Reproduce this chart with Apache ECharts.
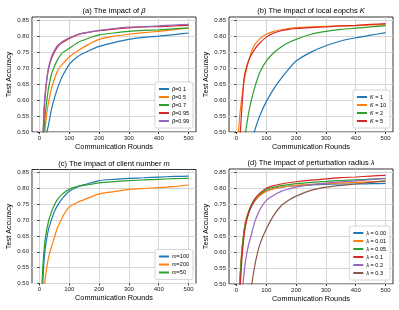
<!DOCTYPE html>
<html><head><meta charset="utf-8">
<script src="https://cdn.jsdelivr.net/npm/echarts@6/dist/echarts.min.js"></script>
<style>html,body{margin:0;padding:0;background:#fff}#c{width:399px;height:310px}</style>
</head><body><div id="c"></div>
<script>
// ---------- Panel (a): impact of beta ----------
const roundsA = [1, 10, 15, 20, 25, 30, 40, 50, 60, 70, 80, 100, 130, 160, 200, 250, 300, 350, 400, 450, 500];
const namesA = ['β=0.1', 'β=0.5', 'β=0.7', 'β=0.95', 'β=0.99'];
const beta01 = [0.10, 0.33, 0.39, 0.45, 0.50, 0.52, 0.57, 0.605, 0.635, 0.66, 0.68, 0.712, 0.737, 0.752, 0.768, 0.78, 0.79, 0.796, 0.80, 0.805, 0.81];
const beta05 = [0.10, 0.38, 0.46, 0.52, 0.56, 0.59, 0.635, 0.665, 0.69, 0.705, 0.715, 0.735, 0.755, 0.772, 0.79, 0.80, 0.806, 0.811, 0.815, 0.82, 0.825];
const beta07 = [0.10, 0.40, 0.50, 0.56, 0.60, 0.635, 0.68, 0.705, 0.725, 0.74, 0.75, 0.762, 0.781, 0.792, 0.804, 0.81, 0.815, 0.818, 0.82, 0.823, 0.826];
const beta095 = [0.10, 0.42, 0.55, 0.62, 0.665, 0.695, 0.73, 0.75, 0.765, 0.775, 0.782, 0.793, 0.805, 0.811, 0.817, 0.822, 0.826, 0.829, 0.830, 0.832, 0.834];
const beta099 = [0.10, 0.44, 0.57, 0.63, 0.67, 0.70, 0.735, 0.755, 0.77, 0.778, 0.785, 0.795, 0.806, 0.812, 0.818, 0.824, 0.828, 0.830, 0.832, 0.835, 0.837];

// ---------- Panel (b): impact of local epochs K ----------
const roundsB = [1, 5, 10, 15, 20, 25, 30, 40, 50, 60, 70, 80, 100, 125, 150, 175, 200, 250, 300, 350, 400, 450, 500];
const namesB = ['K = 1', 'K = 10', 'K = 2', 'K = 5'];
const k1 = [0.10, 0.15, 0.20, 0.24, 0.28, 0.31, 0.34, 0.40, 0.46, 0.50, 0.53, 0.555, 0.595, 0.635, 0.668, 0.697, 0.722, 0.75, 0.77, 0.785, 0.795, 0.803, 0.811];
const k10 = [0.20, 0.47, 0.54, 0.585, 0.62, 0.655, 0.68, 0.72, 0.75, 0.772, 0.784, 0.793, 0.806, 0.815, 0.82, 0.824, 0.827, 0.829, 0.831, 0.832, 0.833, 0.835, 0.836];
const k2 = [0.10, 0.20, 0.28, 0.35, 0.41, 0.46, 0.495, 0.555, 0.60, 0.635, 0.665, 0.69, 0.722, 0.748, 0.766, 0.78, 0.79, 0.806, 0.815, 0.821, 0.825, 0.829, 0.833];
const k5 = [0.15, 0.32, 0.45, 0.53, 0.60, 0.665, 0.69, 0.722, 0.742, 0.757, 0.77, 0.78, 0.797, 0.81, 0.817, 0.821, 0.824, 0.827, 0.829, 0.832, 0.834, 0.837, 0.839];

// ---------- Panel (c): impact of client number m ----------
const roundsC = [1, 5, 10, 15, 20, 30, 40, 50, 60, 70, 80, 100, 125, 150, 200, 250, 300, 350, 400, 450, 500];
const namesC = ['m=100', 'm=200', 'm=50'];
const m100 = [0.12, 0.35, 0.48, 0.565, 0.615, 0.67, 0.70, 0.727, 0.745, 0.76, 0.772, 0.791, 0.804, 0.812, 0.825, 0.829, 0.832, 0.834, 0.836, 0.838, 0.839];
const m200 = [0.10, 0.25, 0.38, 0.47, 0.52, 0.58, 0.615, 0.645, 0.675, 0.695, 0.715, 0.742, 0.755, 0.765, 0.783, 0.79, 0.797, 0.80, 0.803, 0.806, 0.811];
const m50 = [0.15, 0.40, 0.53, 0.60, 0.645, 0.695, 0.725, 0.748, 0.765, 0.776, 0.785, 0.798, 0.806, 0.81, 0.818, 0.822, 0.825, 0.827, 0.829, 0.831, 0.832];

// ---------- Panel (d): impact of perturbation radius lambda ----------
const roundsD = [1, 5, 10, 15, 20, 25, 30, 40, 50, 60, 70, 80, 100, 125, 150, 175, 200, 250, 300, 350, 400, 450, 500];
const namesD = ['λ = 0.00', 'λ = 0.01', 'λ = 0.05', 'λ = 0.1', 'λ = 0.2', 'λ = 0.3'];
const lam000 = [0.15, 0.35, 0.48, 0.56, 0.62, 0.66, 0.69, 0.72, 0.742, 0.758, 0.77, 0.779, 0.792, 0.799, 0.803, 0.806, 0.808, 0.81, 0.812, 0.813, 0.813, 0.814, 0.815];
const lam001 = [0.15, 0.36, 0.49, 0.57, 0.625, 0.665, 0.695, 0.725, 0.745, 0.76, 0.77, 0.778, 0.79, 0.798, 0.803, 0.806, 0.809, 0.812, 0.814, 0.816, 0.818, 0.82, 0.821];
const lam005 = [0.15, 0.35, 0.48, 0.56, 0.62, 0.66, 0.69, 0.725, 0.748, 0.764, 0.775, 0.783, 0.796, 0.803, 0.808, 0.811, 0.814, 0.818, 0.821, 0.824, 0.826, 0.828, 0.83];
const lam01 = [0.12, 0.30, 0.44, 0.53, 0.60, 0.645, 0.68, 0.72, 0.745, 0.763, 0.776, 0.786, 0.80, 0.808, 0.813, 0.817, 0.82, 0.825, 0.829, 0.833, 0.835, 0.838, 0.84];
const lam02 = [0.10, 0.20, 0.32, 0.41, 0.48, 0.53, 0.57, 0.62, 0.655, 0.69, 0.715, 0.735, 0.762, 0.778, 0.79, 0.797, 0.803, 0.811, 0.816, 0.82, 0.823, 0.827, 0.831];
const lam03 = [0.10, 0.12, 0.15, 0.20, 0.25, 0.29, 0.33, 0.42, 0.49, 0.55, 0.595, 0.628, 0.672, 0.715, 0.745, 0.762, 0.775, 0.793, 0.803, 0.809, 0.813, 0.818, 0.823];

const xTicks = [0, 100, 200, 300, 400, 500];
const yTicks = [0.50, 0.55, 0.60, 0.65, 0.70, 0.75, 0.80, 0.85];

const C = ['#1f77b4', '#ff7f0e', '#2ca02c', '#d62728', '#9467bd', '#8c564b'];
const FONT = 'Liberation Sans, Arial, sans-serif';

const panels = [
  {title: '(a) The impact of {i|β}', rounds: roundsA, names: namesA, vals: [beta01, beta05, beta07, beta095, beta099], colors: [C[0], C[1], C[2], C[3], C[4]], grid: {left: 32, top: 17, width: 164, height: 115}},
  {title: '(b) The impact of local eopchs {i|K}', rounds: roundsB, names: namesB, vals: [k1, k10, k2, k5], colors: [C[0], C[1], C[2], C[3]], grid: {left: 229, top: 17, width: 164, height: 115}},
  {title: '(c) The impact of client number {i|m}', rounds: roundsC, names: namesC, vals: [m100, m200, m50], colors: [C[0], C[1], C[2]], grid: {left: 32, top: 169.5, width: 164, height: 114}},
  {title: '(d) The impact of perturbation radius {i|λ}', rounds: roundsD, names: namesD, vals: [lam000, lam001, lam005, lam01, lam02, lam03], colors: C, grid: {left: 229, top: 169, width: 164, height: 115}}
];

const option = {animation: false, textStyle: {fontFamily: FONT}, title: [], grid: [], xAxis: [], yAxis: [], legend: [], series: []};
const italicRich = (fs) => ({i: {fontStyle: 'italic', fontSize: fs, fontFamily: FONT, color: '#000'}});

panels.forEach((p, k) => {
  const g = p.grid;
  option.grid.push({left: g.left, top: g.top, width: g.width, height: g.height, show: true, borderColor: '#000', borderWidth: 0.8, backgroundColor: '#fff'});
  option.title.push({text: p.title, left: g.left + g.width / 2, textAlign: 'center', top: g.top - 10, padding: 0,
    textStyle: {fontSize: 7.5, fontWeight: 'normal', color: '#000', fontFamily: FONT, rich: italicRich(7.5)}});
  option.xAxis.push({type: 'value', gridIndex: k, min: -25, max: 525, splitNumber: 5,
    name: 'Communication Rounds', nameLocation: 'middle', nameGap: 11,
    nameTextStyle: {fontSize: 7.3, color: '#000', fontFamily: FONT},
    axisLine: {show: false}, axisTick: {show: true, length: 2, lineStyle: {color: '#000', width: 0.8}, customValues: xTicks},
    axisLabel: {fontSize: 6, color: '#222', margin: 3, customValues: xTicks},
    splitLine: {show: true, lineStyle: {color: '#d6d6d6', width: 1}}});
  option.yAxis.push({type: 'value', gridIndex: k, min: 0.5, max: 0.86, interval: 0.05,
    name: 'Test Accuracy', nameLocation: 'middle', nameGap: 20,
    nameTextStyle: {fontSize: 7.3, color: '#000', fontFamily: FONT},
    axisLine: {show: false}, axisTick: {show: true, length: 2, lineStyle: {color: '#000', width: 0.8}, customValues: yTicks},
    axisLabel: {fontSize: 6, color: '#222', margin: 3, customValues: yTicks, formatter: v => v.toFixed(2)},
    splitLine: {show: true, lineStyle: {color: '#d6d6d6', width: 1}}});
  option.legend.push({data: p.names, orient: 'vertical', right: 399 - (g.left + g.width - 3), bottom: 310 - (g.top + g.height - 4),
    padding: [3, 4, 3, 4], itemGap: 0, itemWidth: 10, itemHeight: 2, icon: 'rect',
    borderColor: '#cccccc', borderWidth: 0.8, borderRadius: 2, backgroundColor: 'rgba(255,255,255,0.85)',
    formatter: n => n.replace(/^(β|K|m|λ)/, '{i|$1}'),
    textStyle: {fontSize: 5.5, lineHeight: 8, color: '#000', fontFamily: FONT, padding: [0, 0, 0, -2], rich: italicRich(5.5)}});
  p.names.forEach((n, j) => {
    option.series.push({name: n, type: 'line', xAxisIndex: k, yAxisIndex: k, symbol: 'none', clip: true,
      smooth: 0.2,
      color: p.colors[j], lineStyle: {width: 1.2, color: p.colors[j]},
      data: p.rounds.map((r, i) => [r, p.vals[j][i]])});
  });
});

const chart = echarts.init(document.getElementById('c'), null, {renderer: 'canvas'});
chart.setOption(option);
</script></body></html>
